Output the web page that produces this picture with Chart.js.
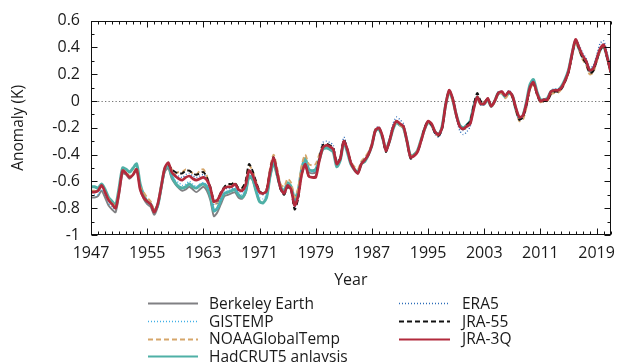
<!DOCTYPE html>
<html><head><meta charset="utf-8">
<script src="https://cdn.jsdelivr.net/npm/chart.js@4/dist/chart.umd.min.js"></script>
<style>html,body{margin:0;padding:0;background:#fff;}#wrap{width:624px;height:362px;}</style>
</head><body><div id="wrap"><canvas id="c" width="624" height="362"></canvas></div>
<script>
// ---- data: half-year samples starting 1947.0 ----
const startYear = 1947;
const stepYear = 0.5;

const berkeley = [
 -0.72,-0.72,-0.71,-0.67,-0.72,-0.78,-0.81,-0.83,-0.70,-0.54,-0.55,-0.58,-0.55,-0.51,-0.66,-0.73,-0.77,-0.79,-0.85,-0.79,
 -0.66,-0.53,-0.50,-0.58,-0.62,-0.65,-0.67,-0.66,-0.64,-0.66,-0.68,-0.66,-0.64,-0.67,-0.74,-0.86,-0.83,-0.77,-0.71,-0.70,
 -0.69,-0.68,-0.72,-0.73,-0.69,-0.57,-0.59,-0.67,-0.75,-0.76,-0.72,-0.57,-0.47,-0.56,-0.66,-0.69,-0.63,-0.66,-0.76,-0.69,
 -0.53,-0.45,-0.53,-0.54,-0.53,-0.44,-0.35,-0.34,-0.36,-0.38,-0.48,-0.44,-0.31,-0.37,-0.47,-0.52,-0.54,-0.47,-0.45,-0.40,
 -0.33,-0.23,-0.21,-0.27,-0.37,-0.31,-0.21,-0.16,-0.18,-0.20,-0.31,-0.41,-0.40,-0.37,-0.29,-0.21,-0.16,-0.18,-0.23,-0.25,
 -0.19,-0.03,0.07,0.01,-0.10,-0.18,-0.20,-0.18,-0.16,-0.05,0.03,-0.02,-0.02,0.01,-0.04,0.00,0.05,0.06,0.03,0.06,
 0.04,-0.06,-0.13,-0.12,-0.02,0.10,0.14,0.06,0.00,0.00,0.01,0.06,0.07,0.08,0.10,0.15,0.22,0.34,0.44,0.39,
 0.33,0.29,0.22,0.23,0.30,0.38,0.41,0.32,0.21
];
const gistemp = [
 -0.70,-0.70,-0.70,-0.66,-0.70,-0.76,-0.79,-0.81,-0.69,-0.53,-0.54,-0.57,-0.54,-0.50,-0.65,-0.72,-0.76,-0.78,-0.83,-0.78,
 -0.65,-0.51,-0.48,-0.55,-0.59,-0.61,-0.63,-0.62,-0.60,-0.62,-0.64,-0.62,-0.61,-0.63,-0.70,-0.82,-0.80,-0.74,-0.68,-0.67,
 -0.66,-0.65,-0.69,-0.70,-0.66,-0.54,-0.57,-0.65,-0.72,-0.73,-0.70,-0.55,-0.44,-0.54,-0.65,-0.68,-0.62,-0.65,-0.75,-0.68,
 -0.52,-0.44,-0.52,-0.53,-0.52,-0.43,-0.34,-0.33,-0.35,-0.37,-0.47,-0.43,-0.30,-0.37,-0.46,-0.51,-0.53,-0.47,-0.44,-0.39,
 -0.32,-0.22,-0.20,-0.26,-0.36,-0.30,-0.20,-0.15,-0.17,-0.19,-0.31,-0.42,-0.41,-0.38,-0.30,-0.21,-0.15,-0.17,-0.23,-0.25,
 -0.20,-0.03,0.07,0.01,-0.11,-0.20,-0.22,-0.20,-0.17,-0.06,0.02,-0.02,-0.02,0.02,-0.04,0.00,0.06,0.07,0.03,0.06,
 0.04,-0.06,-0.13,-0.11,-0.02,0.11,0.15,0.06,0.00,0.01,0.01,0.07,0.08,0.08,0.10,0.15,0.22,0.35,0.46,0.40,
 0.34,0.30,0.23,0.24,0.31,0.40,0.43,0.34,0.23
];
const noaa = [
 -0.67,-0.67,-0.67,-0.64,-0.68,-0.73,-0.76,-0.79,-0.67,-0.52,-0.53,-0.56,-0.54,-0.50,-0.64,-0.68,-0.72,-0.75,-0.81,-0.77,
 -0.63,-0.50,-0.47,-0.51,-0.54,-0.53,-0.53,-0.51,-0.52,-0.54,-0.55,-0.52,-0.51,-0.56,-0.66,-0.77,-0.76,-0.70,-0.65,-0.63,
 -0.62,-0.61,-0.65,-0.65,-0.61,-0.48,-0.52,-0.60,-0.68,-0.69,-0.66,-0.50,-0.40,-0.50,-0.62,-0.64,-0.58,-0.61,-0.72,-0.65,
 -0.48,-0.40,-0.47,-0.48,-0.47,-0.40,-0.34,-0.33,-0.34,-0.36,-0.46,-0.42,-0.29,-0.36,-0.45,-0.49,-0.51,-0.45,-0.42,-0.38,
 -0.32,-0.21,-0.20,-0.26,-0.36,-0.30,-0.20,-0.16,-0.18,-0.20,-0.31,-0.41,-0.40,-0.37,-0.29,-0.21,-0.16,-0.18,-0.24,-0.26,
 -0.20,-0.04,0.07,0.00,-0.11,-0.19,-0.21,-0.20,-0.17,-0.06,0.02,-0.03,-0.01,0.02,-0.04,-0.01,0.05,0.06,0.02,0.05,
 0.03,-0.07,-0.15,-0.14,-0.05,0.08,0.13,0.05,-0.01,0.00,0.00,0.05,0.06,0.06,0.09,0.14,0.21,0.34,0.44,0.38,
 0.31,0.27,0.20,0.21,0.29,0.37,0.41,0.32,0.21
];
const hadcrut5 = [
 -0.64,-0.64,-0.65,-0.62,-0.66,-0.72,-0.75,-0.78,-0.65,-0.50,-0.51,-0.53,-0.50,-0.47,-0.62,-0.70,-0.75,-0.77,-0.82,-0.78,
 -0.64,-0.51,-0.48,-0.56,-0.61,-0.64,-0.65,-0.64,-0.62,-0.64,-0.65,-0.63,-0.62,-0.64,-0.71,-0.82,-0.80,-0.74,-0.69,-0.68,
 -0.67,-0.66,-0.70,-0.72,-0.68,-0.56,-0.58,-0.67,-0.75,-0.76,-0.72,-0.56,-0.46,-0.55,-0.64,-0.67,-0.61,-0.64,-0.73,-0.67,
 -0.51,-0.43,-0.51,-0.52,-0.51,-0.44,-0.36,-0.35,-0.36,-0.38,-0.49,-0.44,-0.31,-0.38,-0.47,-0.51,-0.53,-0.47,-0.45,-0.40,
 -0.33,-0.22,-0.21,-0.27,-0.36,-0.30,-0.21,-0.16,-0.18,-0.20,-0.30,-0.41,-0.40,-0.37,-0.29,-0.21,-0.16,-0.18,-0.23,-0.25,
 -0.19,-0.03,0.07,0.01,-0.10,-0.18,-0.20,-0.18,-0.15,-0.04,0.03,-0.02,-0.02,0.01,-0.04,0.00,0.06,0.06,0.03,0.06,
 0.04,-0.06,-0.13,-0.11,-0.01,0.12,0.16,0.07,0.01,0.01,0.02,0.07,0.08,0.08,0.11,0.16,0.23,0.35,0.45,0.39,
 0.33,0.29,0.23,0.24,0.31,0.38,0.41,0.33,0.23
];
const era5 = [
 null,null,null,null,null,null,null,null,null,null,null,null,null,null,null,null,null,null,null,null,
 null,null,null,null,-0.55,-0.56,-0.57,-0.55,-0.54,-0.56,-0.57,-0.56,-0.55,-0.58,-0.65,-0.77,-0.76,-0.70,-0.66,-0.65,
 -0.65,-0.63,-0.67,-0.68,-0.64,-0.52,-0.55,-0.63,-0.69,-0.70,-0.67,-0.53,-0.43,-0.54,-0.66,-0.70,-0.63,-0.66,-0.79,-0.72,
 -0.55,-0.47,-0.56,-0.57,-0.56,-0.42,-0.31,-0.30,-0.31,-0.33,-0.45,-0.41,-0.27,-0.35,-0.45,-0.51,-0.54,-0.46,-0.43,-0.39,
 -0.32,-0.21,-0.19,-0.26,-0.36,-0.28,-0.17,-0.12,-0.14,-0.17,-0.30,-0.42,-0.41,-0.38,-0.30,-0.20,-0.15,-0.18,-0.25,-0.27,
 -0.21,-0.04,0.08,0.01,-0.12,-0.22,-0.25,-0.23,-0.19,-0.06,0.02,-0.03,-0.03,0.02,-0.04,0.00,0.07,0.07,0.04,0.08,
 0.05,-0.06,-0.14,-0.12,-0.02,0.11,0.15,0.07,0.01,0.01,0.02,0.08,0.09,0.09,0.11,0.16,0.23,0.36,0.46,0.42,
 0.36,0.32,0.25,0.26,0.34,0.43,0.45,0.36,0.24
];
const jra55 = [
 null,null,null,null,null,null,null,null,null,null,null,null,null,null,null,null,null,null,null,null,
 null,null,-0.47,-0.51,-0.53,-0.54,-0.54,-0.52,-0.52,-0.54,-0.55,-0.54,-0.53,-0.57,-0.64,-0.74,-0.74,-0.68,-0.64,-0.62,
 -0.62,-0.61,-0.65,-0.65,-0.60,-0.47,-0.52,-0.60,-0.67,-0.69,-0.66,-0.52,-0.42,-0.54,-0.66,-0.70,-0.64,-0.67,-0.81,-0.73,
 -0.55,-0.48,-0.56,-0.57,-0.56,-0.43,-0.33,-0.32,-0.33,-0.35,-0.46,-0.43,-0.29,-0.36,-0.46,-0.51,-0.54,-0.47,-0.44,-0.40,
 -0.33,-0.22,-0.20,-0.27,-0.38,-0.30,-0.20,-0.15,-0.17,-0.19,-0.30,-0.43,-0.41,-0.38,-0.30,-0.20,-0.15,-0.18,-0.24,-0.26,
 -0.21,-0.03,0.08,0.02,-0.10,-0.19,-0.21,-0.18,-0.15,-0.03,0.06,0.00,-0.01,0.02,-0.04,0.00,0.06,0.07,0.04,0.07,
 0.03,-0.06,-0.14,-0.12,-0.04,0.09,0.13,0.05,-0.01,0.00,0.00,0.05,0.07,0.07,0.09,0.14,0.21,0.34,0.45,0.39,
 0.32,0.28,0.21,0.22,0.30,0.38,0.41,0.32,0.21
];
const jra3q = [
 -0.68,-0.68,-0.67,-0.63,-0.68,-0.74,-0.77,-0.80,-0.68,-0.52,-0.54,-0.57,-0.55,-0.51,-0.66,-0.72,-0.75,-0.77,-0.83,-0.77,
 -0.64,-0.50,-0.46,-0.53,-0.56,-0.58,-0.59,-0.57,-0.56,-0.58,-0.59,-0.58,-0.57,-0.59,-0.65,-0.75,-0.74,-0.69,-0.65,-0.64,
 -0.64,-0.62,-0.66,-0.67,-0.63,-0.52,-0.55,-0.62,-0.68,-0.69,-0.67,-0.53,-0.42,-0.53,-0.65,-0.69,-0.63,-0.66,-0.78,-0.71,
 -0.55,-0.47,-0.56,-0.57,-0.57,-0.45,-0.35,-0.33,-0.34,-0.36,-0.47,-0.43,-0.30,-0.36,-0.46,-0.51,-0.54,-0.47,-0.44,-0.40,
 -0.33,-0.22,-0.20,-0.26,-0.37,-0.30,-0.20,-0.15,-0.17,-0.19,-0.30,-0.42,-0.41,-0.38,-0.30,-0.21,-0.15,-0.17,-0.23,-0.25,
 -0.20,-0.03,0.08,0.02,-0.10,-0.19,-0.21,-0.19,-0.17,-0.06,0.03,-0.02,-0.02,0.02,-0.04,0.00,0.06,0.07,0.04,0.07,
 0.04,-0.05,-0.12,-0.11,-0.02,0.10,0.14,0.06,0.00,0.01,0.01,0.07,0.08,0.08,0.10,0.15,0.22,0.35,0.46,0.40,
 0.34,0.30,0.23,0.24,0.31,0.39,0.42,0.33,0.22
];

const seriesNames = ['Berkeley Earth','GISTEMP','NOAAGlobalTemp','HadCRUT5 anlaysis','ERA5','JRA-55','JRA-3Q'];
const xTickValues = [1947,1955,1963,1971,1979,1987,1995,2003,2011,2019];
const xTickLabels = ['1947','1955','1963','1971','1979','1987','1995','2003','2011','2019'];
const yTickValues = [-1,-0.8,-0.6,-0.4,-0.2,0,0.2,0.4,0.6];
const yTickLabels = ['-1','-0.8','-0.6','-0.4','-0.2','0','0.2','0.4','0.6'];
const xAxisTitle = 'Year';
const yAxisTitle = 'Anomaly (K)';

// ---- build chart ----
const toPts = arr => arr.map((v, i) => ({x: startYear + i * stepYear, y: v}));

const styles = [
  {color:'#808083', width:1.9, dash:[], order:6},
  {color:'#3fb0e6', width:1.3, dash:[1,2], order:4},
  {color:'#d6a66a', width:1.9, dash:[5,3], order:3},
  {color:'#4fb0a6', width:3.0, dash:[], order:5},
  {color:'#2c6cb8', width:1.4, dash:[1,2], order:2},
  {color:'#111111', width:1.9, dash:[5,3], order:1},
  {color:'#b22a3c', width:2.7, dash:[], order:0}
];
const seriesData = [berkeley, gistemp, noaa, hadcrut5, era5, jra55, jra3q];

const datasets = seriesData.map((arr, k) => ({
  label: seriesNames[k],
  data: toPts(arr),
  borderColor: styles[k].color,
  backgroundColor: styles[k].color,
  borderWidth: styles[k].width,
  borderDash: styles[k].dash,
  order: styles[k].order,
  pointRadius: 0,
  tension: 0.25,
  fill: false,
  spanGaps: false
}));

const FONT = "'Open Sans', 'DejaVu Sans', sans-serif";
Chart.defaults.font.family = FONT;
Chart.defaults.font.size = 16;
Chart.defaults.color = '#1a1a1a';

const deco = {
  id: 'deco',
  beforeDatasetsDraw(chart) {
    const {ctx, chartArea: a, scales: {y}} = chart;
    const y0 = Math.round(y.getPixelForValue(0)) + 0.5;
    ctx.save();
    ctx.strokeStyle = '#777';
    ctx.lineWidth = 1;
    ctx.setLineDash([1.3, 2.2]);
    ctx.beginPath(); ctx.moveTo(a.left, y0); ctx.lineTo(a.right, y0); ctx.stroke();
    ctx.restore();
  },
  afterDatasetsDraw(chart) {
    const {ctx, chartArea: a, scales: {x, y}} = chart;
    ctx.save();
    ctx.strokeStyle = '#111';
    ctx.lineWidth = 1;
    ctx.setLineDash([]);
    const L = Math.round(a.left) + 0.5, R = Math.round(a.right) - 0.5;
    const T = Math.round(a.top) + 0.5, B = Math.round(a.bottom) - 0.5;
    ctx.strokeRect(L, T, R - L, B - T);
    ctx.beginPath();
    for (let yr = x.min; yr <= x.max; yr++) {
      const major = xTickValues.includes(yr);
      const len = major ? 6 : 3;
      const px = Math.round(x.getPixelForValue(yr)) + 0.5;
      ctx.moveTo(px, B); ctx.lineTo(px, B - len);
      ctx.moveTo(px, T); ctx.lineTo(px, T + len);
    }
    for (let k = 0; k <= 16; k++) {
      const v = y.min + k * 0.1;
      const major = k % 2 === 0;
      const len = major ? 6 : 3;
      const py = Math.round(y.getPixelForValue(v)) + 0.5;
      ctx.moveTo(L, py); ctx.lineTo(L + len, py);
      ctx.moveTo(R, py); ctx.lineTo(R - len, py);
    }
    ctx.stroke();
    ctx.restore();
  },
  afterDraw(chart) {
    const {ctx, chartArea: a} = chart;
    ctx.save();
    ctx.font = '16px ' + FONT;
    ctx.fillStyle = '#1a1a1a';
    ctx.textAlign = 'center';
    ctx.textBaseline = 'alphabetic';
    ctx.fillText(xAxisTitle, (a.left + a.right) / 2, 284.5);
    const layout = [
      {i:0, col:0, row:0}, {i:1, col:0, row:1}, {i:2, col:0, row:2}, {i:3, col:0, row:3},
      {i:4, col:1, row:0}, {i:5, col:1, row:1}, {i:6, col:1, row:2}
    ];
    const cols = [{x0:148, x1:198, tx:209}, {x0:399, x1:450, tx:462}];
    ctx.font = '15.5px ' + FONT;
    ctx.textAlign = 'left';
    layout.forEach(it => {
      const ds = chart.data.datasets[it.i];
      const c = cols[it.col];
      const base = 309 + it.row * 17.6;
      const ly = Math.round(base - 5.6) + 0.5;
      ctx.save();
      ctx.strokeStyle = ds.borderColor;
      ctx.lineWidth = Math.min(ds.borderWidth, 2);
      ctx.setLineDash(ds.borderDash);
      ctx.beginPath(); ctx.moveTo(c.x0, ly); ctx.lineTo(c.x1, ly); ctx.stroke();
      ctx.restore();
      ctx.fillText(ds.label, c.tx, base);
    });
    ctx.restore();
  }
};

new Chart(document.getElementById('c'), {
  type: 'line',
  data: { datasets },
  options: {
    responsive: false,
    animation: false,
    devicePixelRatio: 1,
    layout: { padding: { top: 18, right: 4, left: 0, bottom: 0 } },
    plugins: { legend: { display: false }, tooltip: { enabled: false } },
    scales: {
      x: {
        type: 'linear', min: 1947, max: 2021,
        grid: { display: false, drawTicks: false },
        border: { display: false },
        afterBuildTicks: s => { s.ticks = xTickValues.map(v => ({ value: v })); },
        afterFit: s => { s.height = 127; },
        ticks: {
          autoSkip: false, maxRotation: 0, padding: 9,
          callback: (v, i) => xTickLabels[i]
        }
      },
      y: {
        type: 'linear', min: -1, max: 0.6,
        grid: { display: false, drawTicks: false },
        border: { display: false },
        afterBuildTicks: s => { s.ticks = yTickValues.map(v => ({ value: v })); },
        afterFit: s => { s.width = 91; },
        ticks: {
          autoSkip: false, padding: 11,
          callback: (v, i) => yTickLabels[i]
        },
        title: { display: true, text: yAxisTitle, padding: { top: 9, bottom: 0 }, font: { size: 15.5 } }
      }
    }
  },
  plugins: [deco]
});
</script>
</body></html>
